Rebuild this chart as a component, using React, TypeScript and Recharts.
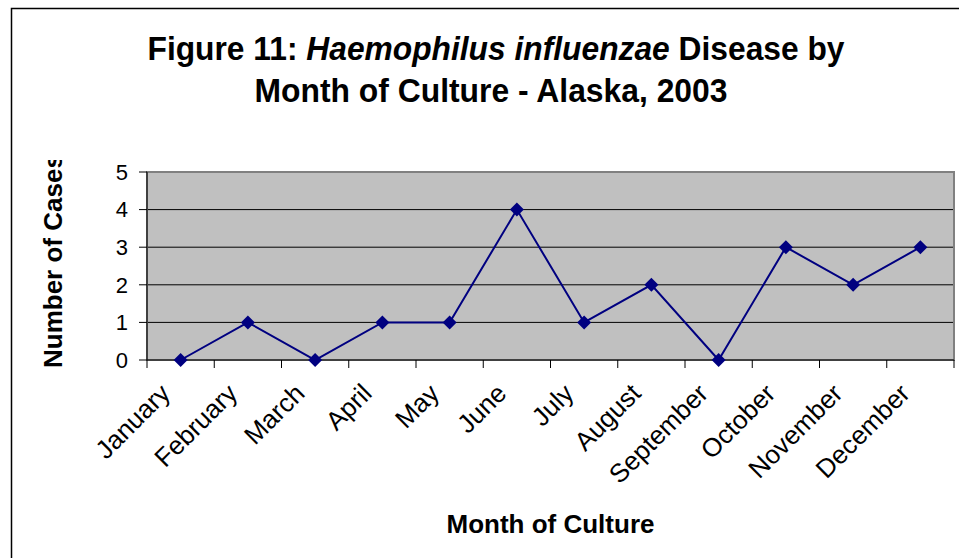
import { LineChart, Line, XAxis, YAxis, CartesianGrid, ReferenceArea, Label } from 'recharts'

const months = [
  'January', 'February', 'March', 'April', 'May', 'June',
  'July', 'August', 'September', 'October', 'November', 'December',
]
const cases = [0, 1, 0, 1, 1, 4, 1, 2, 0, 3, 2, 3]
const yTicks = [0, 1, 2, 3, 4, 5]

const data = months.map((month, i) => ({ month, cases: cases[i] }))

const FONT = '"Liberation Sans", Arial, sans-serif'
const NAVY = '#000080'
const TICK = 8

// category label rotated -45deg, with the tick marks drawn between categories (Excel style)
function MonthTick(props: any) {
  const { x, y, payload, index, width } = props
  const half = width / months.length / 2
  const axisY = y - TICK
  const lx = x - 9
  const ly = axisY + 35
  return (
    <g>
      <line x1={x - half} y1={axisY} x2={x - half} y2={axisY + TICK} stroke="#000" />
      {index === months.length - 1 && (
        <line x1={x + half} y1={axisY} x2={x + half} y2={axisY + TICK} stroke="#000" />
      )}
      <text
        x={lx}
        y={ly}
        transform={`rotate(-45, ${lx}, ${ly})`}
        textAnchor="end"
        fontSize={26}
        fontFamily={FONT}
        fill="#000"
      >
        {payload.value}
      </text>
    </g>
  )
}

function Diamond(props: any) {
  const { cx, cy } = props
  if (cx == null || cy == null) return null
  const r = 7
  return <path d={`M${cx},${cy - r}L${cx + r},${cy}L${cx},${cy + r}L${cx - r},${cy}Z`} fill={NAVY} />
}

export default function App() {
  return (
    <div style={{ position: 'absolute', left: 0, top: 0, width: 959, height: 558, background: '#fff', overflow: 'hidden' }}>
      <LineChart width={959} height={558} data={data} margin={{ top: 172, right: 5, left: 87, bottom: 20 }}>
        <CartesianGrid vertical={false} stroke="#000" fill="#C0C0C0" />
        <ReferenceArea
          x1="January"
          x2="December"
          y1={0}
          y2={5}
          fill="none"
          fillOpacity={0}
          stroke="#808080"
          strokeWidth={2}
          ifOverflow="visible"
        />
        <XAxis
          dataKey="month"
          scale="band"
          interval={0}
          height={178}
          tickLine={false}
          tickSize={TICK}
          tickMargin={0}
          axisLine={{ stroke: '#000' }}
          tick={<MonthTick />}
        >
          <Label
            value="Month of Culture"
            position="insideBottom"
            offset={5}
            style={{ fontSize: 26, fontWeight: 'bold', fontFamily: FONT, fill: '#000' }}
          />
        </XAxis>
        <YAxis
          domain={[0, 5]}
          ticks={yTicks}
          width={60}
          tickSize={TICK}
          tickMargin={11}
          tickLine={{ stroke: '#000' }}
          axisLine={{ stroke: '#000' }}
          tick={{ fill: '#000', fontSize: 22, fontFamily: FONT }}
        />
        <Line
          type="linear"
          dataKey="cases"
          stroke={NAVY}
          strokeWidth={2}
          dot={<Diamond />}
          activeDot={false}
          isAnimationActive={false}
        />
      </LineChart>
      <svg width={959} height={558} style={{ position: 'absolute', left: 0, top: 0, pointerEvents: 'none' }}>
        <defs>
          <clipPath id="ylabelClip">
            <rect x={0} y={160} width={200} height={300} />
          </clipPath>
        </defs>
        <rect x={11.5} y={8.5} width={2000} height={2000} fill="none" stroke="#000" strokeWidth={1.5} />
        <text
          x={496}
          y={60}
          textAnchor="middle"
          fontSize={33}
          fontWeight="bold"
          fontFamily={FONT}
          textLength={697}
          lengthAdjust="spacingAndGlyphs"
        >
          Figure 11: <tspan fontStyle="italic">Haemophilus influenzae</tspan> Disease by
        </text>
        <text
          x={491}
          y={102}
          textAnchor="middle"
          fontSize={33}
          fontWeight="bold"
          fontFamily={FONT}
          textLength={473}
          lengthAdjust="spacingAndGlyphs"
        >
          Month of Culture - Alaska, 2003
        </text>
        <g clipPath="url(#ylabelClip)">
          <text
            x={62}
            y={368}
            transform="rotate(-90, 62, 368)"
            fontSize={26}
            fontWeight="bold"
            fontFamily={FONT}
          >
            Number of Cases
          </text>
        </g>
      </svg>
    </div>
  )
}
